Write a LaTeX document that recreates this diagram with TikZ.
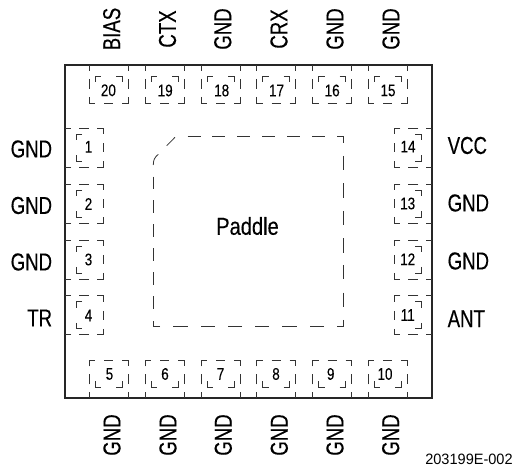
\documentclass[tikz,border=0pt]{standalone}
\usepackage{fontspec}
\setmainfont{Liberation Sans}
\newfontfamily\lblfont[FakeStretch=0.76,FakeBold=0.3]{Liberation Sans}
\newfontfamily\padlfont[FakeStretch=0.82,FakeBold=0.3]{Liberation Sans}
\newfontfamily\numfont[FakeStretch=0.8,FakeBold=0.15]{Liberation Sans}
\newfontfamily\refffont[FakeStretch=0.97]{Liberation Sans}
\newcommand\padmarks{%
    \draw[thinln] (0,0)--(0,6) (0,14)--(0,24) (0,32)--(0,38)--(6,38)
      (15,38)--(24,38) (33,38)--(39,38)--(39,32) (39,24)--(39,14) (39,6)--(39,0);
    \draw[thinln] (6,17)--(6,11)--(12,11) (27,11)--(33,11)--(33,17);
}
\tikzset{
  thinln/.style={draw=black!80,line width=0.8pt},
  outline/.style={draw=black!85,line width=1.7pt},
  pinlabel/.style={inner sep=0pt,font=\lblfont\fontsize{24.5}{24}\selectfont},
  pinnum/.style={inner sep=0pt,font=\numfont\fontsize{16.8}{17}\selectfont}
}
\begin{document}
\begin{tikzpicture}[x=1pt,y=-1pt]
\useasboundingbox (0,0) rectangle (515,468);
\draw[outline] (65,65) rectangle (432.3,398.3);
% top pads
\foreach \px in {89.3,145.2,201,256.7,312.5,368.2}
  {\begin{scope}[shift={(\px,65)}]\padmarks\end{scope}}
% bottom pads
\foreach \px in {89.3,145.2,201,256.7,312.5,368.2}
  {\begin{scope}[shift={(\px,398.3)},yscale=-1]\padmarks\end{scope}}
% left pads
\foreach \py in {128.5,184.3,240,295.8}
  {\begin{scope}[shift={(65,\py)},cm={0,-1,-1,0,(0,0)}]\padmarks\end{scope}}
% right pads
\foreach \py in {128.5,184.3,240,295.8}
  {\begin{scope}[shift={(432.3,\py)},cm={0,-1,1,0,(0,0)}]\padmarks\end{scope}}
% paddle
\foreach \s in {187.7,212.4,237.3,262.3,287.3,312.3}
  {\draw[thinln] (\s,136.6)--(\s+13,136.6);}
\draw[thinln] (337.3,136.6)--(343.3,136.6)--(343.3,143.3);
\foreach \s in {156,183.3,211,238.3,265,292.7}
  {\draw[thinln] (343.3,\s)--(343.3,\s+14.3);}
\draw[thinln] (343.3,320)--(343.3,326.7)--(336.7,326.7);
\foreach \s in {310,282.3,255,227.8,200.7,173.4}
  {\draw[thinln] (\s+14.2,326.7)--(\s,326.7);}
\draw[thinln] (160,326.7)--(153.3,326.7)--(153.3,320.7);
\foreach \s in {176.7,200.5,224.5,248.3,272.3,296.5}
  {\draw[thinln] (153.3,\s)--(153.3,\s+12.5);}
\draw[thinln] (153.3,165) .. controls (153.3,160) and (154.5,157.5) .. (158.3,154.3);
\draw[thinln] (166.7,145.7)--(175,137.3);
% pin numbers
\foreach \t/\x/\y in {20/108.4/90.3,19/165.2/90.5,18/221.7/90.5,17/276.5/90.5,16/332.2/90.5,15/388/90.5,
  1/88.5/146.8,2/88.5/204,3/88.5/259.5,4/88.5/315.5,
  5/109.5/374,6/165/374,7/220.5/374,8/276/374,9/330.7/374,10/385/374,
  11/407.7/315,12/407.7/259.3,13/407.7/203.5,14/408/146.6}
  {\node[pinnum] (n\t) at (\x,\y) {\t};}
% labels
\foreach \t/\x [count=\i] in {BIAS/111.7,CTX/167.5,GND/222.8,CRX/279,GND/335,GND/391}
  {\node[pinlabel,rotate=90] (top\i) at (\x,29) {\t};}
\foreach \x [count=\i] in {112,168,223.3,279.3,335,390.7}
  {\node[pinlabel,rotate=90] (bot\i) at (\x,435) {GND};}
\foreach \t/\y [count=\i] in {GND/149,GND/205.5,GND/262,TR/318}
  {\node[pinlabel,anchor=east] (lft\i) at (52.3,\y) {\t};}
\foreach \t/\y [count=\i] in {VCC/145.5,GND/203,GND/261,ANT/318.7}
  {\node[pinlabel,anchor=west] (rgt\i) at (447.5,\y) {\t};}
\node[inner sep=0pt,font=\padlfont\fontsize{24.5}{24}\selectfont] (pad) at (247.5,226) {Paddle};
\node[inner sep=0pt,font=\refffont\fontsize{15}{15}\selectfont] (refid) at (469,459.5) {203199E-002};
\end{tikzpicture}
\end{document}
